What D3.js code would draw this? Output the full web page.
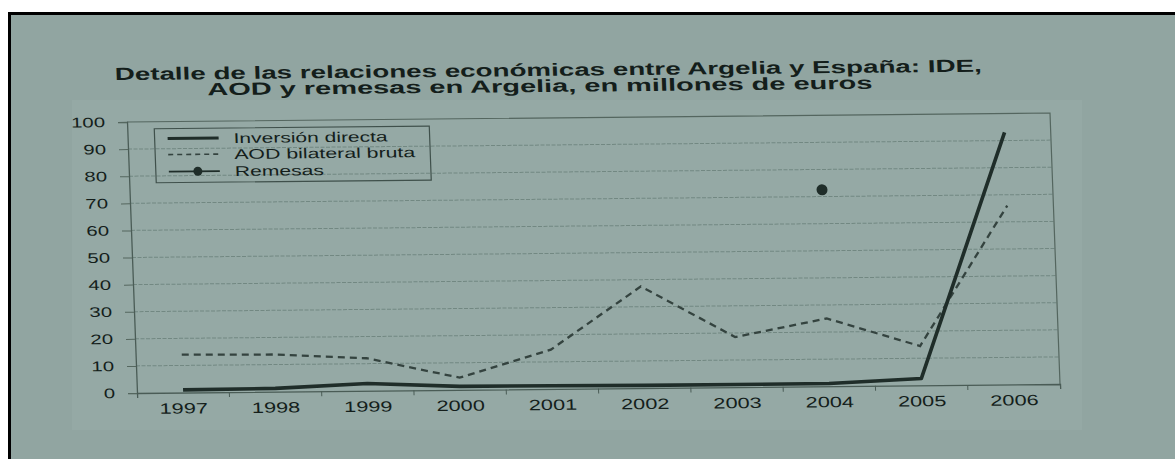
<!DOCTYPE html>
<html>
<head>
<meta charset="utf-8">
<script src="https://cdn.jsdelivr.net/npm/d3@7"></script>
<style>
  body { margin: 0; background: #fff; }
  svg { display: block; font-family: "Liberation Sans", Arial, sans-serif; }
</style>
</head>
<body>
<div id="chart"></div>
<script>
// data
const years = ["1997", "1998", "1999", "2000", "2001", "2002", "2003", "2004", "2005", "2006"];
const inversion = [1, 1.2, 2.7, 1.3, 1.2, 1.0, 1.0, 1.0, 2.5, 93];
const aod = [14, 13.7, 12, 4.5, 14.5, 37.5, 18.5, 25, 14.5, 66];
const remesas = [null, null, null, null, null, null, null, 72.5, null, null];
const yTicks = [0, 10, 20, 30, 40, 50, 60, 70, 80, 90, 100];
const legendLabels = ["Inversión directa", "AOD bilateral bruta", "Remesas"];
const titleLines = ["Detalle de las relaciones económicas entre Argelia y España: IDE,",
                    "AOD y remesas en Argelia, en millones de euros"];

const W = 923, H = 271;
const ink = "#141e1b";
const lineCol = "#1f2d29";

const svg = d3.select("#chart").append("svg")
    .attr("width", 1175)
    .attr("height", 459);

svg.append("rect").attr("width", 1175).attr("height", 459).attr("fill", "#ffffff");
svg.append("rect")
    .attr("x", 10).attr("y", 14)
    .attr("width", 1165).attr("height", 445)
    .attr("fill", "#91a5a1");
// slightly lighter paper behind the chart
svg.append("rect")
    .attr("x", 72).attr("y", 100)
    .attr("width", 1010).attr("height", 330)
    .attr("fill", "#95a9a5");
svg.append("path")
    .attr("d", "M9.5,459V13.5H1175")
    .attr("fill", "none")
    .attr("stroke", "#000")
    .attr("stroke-width", 3);

// the photo is slightly tilted / sheared, so the chart lives in a skewed group
const g = svg.append("g")
    .attr("transform", "matrix(1,-0.00975,0.0369,1,127,122)");

const x = d3.scaleBand().domain(years).range([0, W]);
const y = d3.scaleLinear().domain([0, 100]).range([H, 0]);
const cx = d => x(d) + x.bandwidth() / 2;

// title
g.append("g").selectAll("text")
    .data(titleLines)
    .join("text")
    .attr("x", (d, i) => i == 0 ? 423 : 414)
    .attr("y", (d, i) => i == 0 ? -42 : -26)
    .attr("text-anchor", "middle")
    .attr("font-weight", "bold")
    .attr("font-size", 17.5)
    .attr("fill", ink)
    .attr("textLength", (d, i) => i == 0 ? 867 : 665)
    .attr("lengthAdjust", "spacingAndGlyphs")
    .text(d => d);

// gridlines
g.append("g").selectAll("line")
    .data(yTicks.filter(v => v > 0 && v < 100))
    .join("line")
    .attr("x1", 0).attr("x2", W)
    .attr("y1", d => y(d)).attr("y2", d => y(d))
    .attr("stroke", "#728882")
    .attr("stroke-width", 1)
    .attr("stroke-dasharray", "4,1.5");

// plot frame (top and right)
g.append("path")
    .attr("d", `M0,${y(100)}H${W}V${H}`)
    .attr("fill", "none")
    .attr("stroke", "#54665f")
    .attr("stroke-width", 1.2);

// y axis
const yAxis = g.append("g")
    .call(d3.axisLeft(y).tickValues(yTicks).tickSize(9));
yAxis.select(".domain").attr("stroke", "#4a5c56").attr("stroke-width", 1.3);
yAxis.selectAll(".tick line").attr("stroke", "#55675f");
yAxis.selectAll("text")
    .attr("x", 0)
    .attr("transform", "translate(-22,0) scale(1.45,1)")
    .attr("font-size", 14)
    .attr("fill", ink);

// x axis
const xAxis = g.append("g")
    .attr("transform", `translate(0,${H})`)
    .call(d3.axisBottom(x).tickSizeInner(0).tickSizeOuter(5));
xAxis.select(".domain").attr("stroke", "#4a5c56").attr("stroke-width", 1.3);
xAxis.selectAll("text")
    .attr("y", 21)
    .attr("dy", null)
    .attr("transform", "scale(1.45,1)")
    .attr("font-size", 15)
    .attr("fill", ink);
xAxis.append("g").selectAll("line")
    .data(years.slice(1))
    .join("line")
    .attr("x1", d => x(d)).attr("x2", d => x(d))
    .attr("y1", 0).attr("y2", 5)
    .attr("stroke", "#4a5c56");

// series
const lineGen = d3.line()
    .defined(d => d.v != null)
    .x(d => cx(d.year))
    .y(d => y(d.v));

g.append("path")
    .datum(years.map((yr, i) => ({year: yr, v: aod[i]})))
    .attr("d", lineGen)
    .attr("fill", "none")
    .attr("stroke", "#34433f")
    .attr("stroke-width", 2.3)
    .attr("stroke-dasharray", "7,5");

g.append("path")
    .datum(years.map((yr, i) => ({year: yr, v: inversion[i]})))
    .attr("d", lineGen)
    .attr("fill", "none")
    .attr("stroke", lineCol)
    .attr("stroke-width", 3.6)
    .attr("stroke-linejoin", "round");

g.append("g").selectAll("circle")
    .data(years.map((yr, i) => ({year: yr, v: remesas[i]})).filter(d => d.v != null))
    .join("circle")
    .attr("cx", d => cx(d.year))
    .attr("cy", d => y(d.v))
    .attr("r", 5.5)
    .attr("fill", lineCol);

// legend
const lx = 27, ly = 7;
const legend = g.append("g").attr("transform", `translate(${lx},${ly})`);
legend.append("rect")
    .attr("width", 275).attr("height", 54)
    .attr("fill", "none")
    .attr("stroke", "#3f504b")
    .attr("stroke-width", 1.2);

const rows = [10, 26, 43];
const textLens = [154, 181, 89];
legend.selectAll("text")
    .data(legendLabels)
    .join("text")
    .attr("x", 79)
    .attr("y", (d, i) => rows[i] + 5)
    .attr("font-size", 14)
    .attr("fill", ink)
    .attr("textLength", (d, i) => textLens[i])
    .attr("lengthAdjust", "spacingAndGlyphs")
    .text(d => d);

legend.append("line")
    .attr("x1", 13).attr("x2", 64).attr("y1", rows[0]).attr("y2", rows[0])
    .attr("stroke", lineCol).attr("stroke-width", 3);
legend.append("line")
    .attr("x1", 13).attr("x2", 64).attr("y1", rows[1]).attr("y2", rows[1])
    .attr("stroke", "#34433f").attr("stroke-width", 1.6).attr("stroke-dasharray", "5,4");
legend.append("line")
    .attr("x1", 13).attr("x2", 64).attr("y1", rows[2]).attr("y2", rows[2])
    .attr("stroke", lineCol).attr("stroke-width", 1.6);
legend.append("circle")
    .attr("cx", 42).attr("cy", rows[2]).attr("r", 4.5)
    .attr("fill", lineCol);
</script>
</body>
</html>
